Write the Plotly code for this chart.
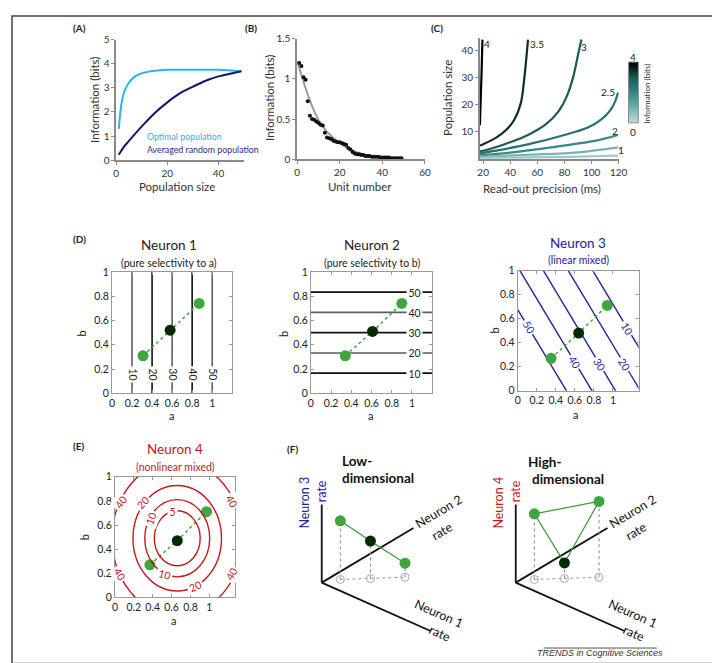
import numpy as np
import plotly.graph_objects as go
from plotly.colors import sample_colorscale

W, H = 720, 663
def px(x): return x / W
def py(y): return 1 - y / H

FONT = "Lato"

# ---------------- data ----------------
# (A) information vs population size
a_pop_opt = [1, 2, 3, 4, 5, 7, 9, 12, 15, 20, 30, 40, 49]
a_info_opt = [1.3, 2.3, 2.8, 3.05, 3.22, 3.45, 3.57, 3.66, 3.71, 3.75, 3.76, 3.75, 3.69]
a_pop_rand = [1, 3, 5, 10, 15, 20, 25, 30, 35, 40, 45, 49]
a_info_rand = [0.22, 0.55, 0.8, 1.4, 1.95, 2.4, 2.78, 3.05, 3.3, 3.48, 3.6, 3.69]

# (B) information per unit
b_units = list(range(1, 50))
b_info = [1.2, 1.16, 1.02, 0.99, 0.72, 0.54, 0.5, 0.49, 0.47, 0.45, 0.43, 0.42, 0.33, 0.27,
          0.26, 0.25, 0.23, 0.22, 0.21, 0.21, 0.2, 0.19, 0.18, 0.14, 0.12, 0.09, 0.07, 0.06,
          0.06, 0.05, 0.05, 0.04, 0.04, 0.04, 0.03, 0.03, 0.03, 0.03, 0.02, 0.02, 0.02, 0.02,
          0.02, 0.01, 0.01, 0.01, 0.01, 0.01, 0.01]
b_fit_x = [0, 2, 4, 6, 8, 10, 12, 14, 16, 18, 20, 22, 25, 28, 31, 35, 40, 45, 49]
b_fit_y = [1.22, 1.05, 0.88, 0.73, 0.6, 0.49, 0.41, 0.34, 0.29, 0.24, 0.2, 0.165, 0.12,
           0.085, 0.06, 0.04, 0.025, 0.015, 0.01]

# (C) iso-information contours: read-out precision (ms) vs population size
c_levels = [4, 3.5, 3, 2.5, 2, 1, 0.5]
c_x_40 = [17.6, 18.2, 18.8, 19.2, 19.5]
c_y_40 = [12.5, 22, 31, 38.5, 44]
c_x_35 = [17.5, 20, 29.6, 36.9, 43, 47.8, 50.2, 51.9, 53.1]
c_y_35 = [5.0, 5.5, 7.9, 10.7, 14.5, 20.6, 29, 37.4, 44]
c_x_30 = [17.5, 24.9, 39.4, 53.8, 65.9, 75.6, 81.6, 86.4, 90.1, 92.5]
c_y_30 = [2.8, 3.7, 6.1, 9.1, 12.7, 17.6, 23, 30.2, 38.6, 44]
c_x_25 = [17.5, 29.6, 53.8, 78, 97.3, 107, 114.2, 117.8, 119.5]
c_y_25 = [2.1, 3.1, 5.5, 8.6, 11.6, 14.5, 18.2, 21.8, 24.5]
c_x_20 = [17.5, 41.7, 78, 102.1, 119.5]
c_y_20 = [1.4, 2.5, 4.9, 6.7, 8.9]
c_x_10 = [17.5, 53.8, 90.1, 119.5]
c_y_10 = [0.85, 1.6, 2.5, 4.3]
c_x_05 = [17.5, 70, 119.5]
c_y_05 = [0.5, 0.7, 1.3]
c_labels = ["4", "3.5", "3", "2.5", "2", "1"]
c_colorbar_vals = [0, 0.5, 1, 1.5, 2, 2.5, 3, 3.5, 4]

# (D) tuning of neurons 1-3
d_tick_vals = [0, 0.2, 0.4, 0.6, 0.8, 1]
d1_levels = [10, 20, 30, 40, 50]
d1_a = [0.2, 0.4, 0.6, 0.8, 1.0]
d2_levels = [10, 20, 30, 40, 50]
d2_b = [0.167, 0.333, 0.5, 0.667, 0.833]
d3_levels = [10, 20, 30, 40, 50]
d3_intercept = [2.04, 1.70, 1.356, 1.03, 0.676]
d3_slope = -1.32
d3_label_a = [1.15, 1.12, 0.86, 0.6, 0.11]
d1_pts_a = [0.31, 0.58, 0.87]; d1_pts_b = [0.31, 0.52, 0.74]
d2_pts_a = [0.34, 0.61, 0.90]; d2_pts_b = [0.31, 0.51, 0.74]
d3_pts_a = [0.35, 0.64, 0.94]; d3_pts_b = [0.27, 0.48, 0.71]

# (E) neuron 4 nonlinear mixed
e_levels = [5, 10, 20, 40]
e_center = [0.66, 0.49]
e_semi_a = [0.243, 0.344, 0.469, 0.69]
e_semi_b = [0.228, 0.32, 0.437, 0.64]
e_pts_a = [0.37, 0.66, 0.97]; e_pts_b = [0.27, 0.47, 0.71]

# (F) population responses (rates, fraction of axis length)
f_n1 = [0.07, 0.22, 0.39]
f_n2 = [0.12, 0.27, 0.445]
f_n3 = [0.75, 0.48, 0.18]
f_n4 = [0.84, 0.20, 0.97]

# ---------------- styles ----------------
GREEN = "#3ea63e"
DARK = "#052b05"
BLUE = "#22229e"
RED = "#c41a1a"
AXC = "#8a8a8a"
c_scale = [[0, "#c4dedd"], [0.45, "#3a928f"], [0.75, "#1c5b58"], [1, "#000000"]]
TICKFS = 10
TITLEFS = 11.5

fig = go.Figure()
layout = dict(width=W, height=H, margin=dict(l=0, r=0, t=0, b=0, pad=0),
              paper_bgcolor="white", plot_bgcolor="rgba(0,0,0,0)", showlegend=False,
              font=dict(family=FONT, size=10, color="#222"))
ann = []
shapes = []

def ax_names(n):
    return ("x" if n == 1 else f"x{n}"), ("y" if n == 1 else f"y{n}")

def add_axes(n, x0, x1, ytop, ybot, xr, yr, xt=None, yt=None, box=False, hidden=False,
             xtt=None, ytt=None, fs=TICKFS):
    xn, yn = ax_names(n)
    base = dict(showgrid=False, zeroline=False, fixedrange=True)
    if hidden:
        xa = dict(base, visible=False)
        ya = dict(base, visible=False)
    elif box:
        common = dict(base, showline=True, linecolor="#9a9a9a", linewidth=1, mirror="ticks",
                      ticks="inside", ticklen=3, tickcolor="#9a9a9a",
                      tickfont=dict(size=fs, color="#222"))
        xa = dict(common); ya = dict(common)
    else:
        common = dict(base, showline=True, linecolor=AXC, linewidth=1.5, ticks="outside",
                      ticklen=3, tickcolor=AXC, tickfont=dict(size=fs, color="#333"))
        xa = dict(common); ya = dict(common)
    xa.update(domain=[px(x0), px(x1)], range=xr, anchor=yn)
    ya.update(domain=[py(ybot), py(ytop)], range=yr, anchor=xn)
    if xt is not None:
        xa.update(tickvals=xt)
        if xtt is not None: xa.update(ticktext=xtt)
    if yt is not None:
        ya.update(tickvals=yt)
        if ytt is not None: ya.update(ticktext=ytt)
    key = "" if n == 1 else str(n)
    layout["xaxis" + key] = xa
    layout["yaxis" + key] = ya
    return xn, yn

def txt(x, y, s, size=10, color="#222", angle=0, bold=False, xanchor="center",
        yanchor="middle", family=FONT, align="center"):
    if bold:
        s = "<b>" + s + "</b>"
    ann.append(dict(x=px(x), y=py(y), xref="paper", yref="paper", text=s, showarrow=False,
                    font=dict(size=size, color=color, family=family), textangle=angle,
                    xanchor=xanchor, yanchor=yanchor, align=align))

def dtxt(xr, yr, x, y, s, size=10.5, color="#222", angle=0):
    ann.append(dict(x=x, y=y, xref=xr, yref=yr, text=s, showarrow=False,
                    font=dict(size=size, color=color, family=FONT), textangle=angle,
                    bgcolor="white", borderpad=1.5, xanchor="center", yanchor="middle"))

# ---- (A)
xA, yA = add_axes(1, 107, 237, 25.3, 148, [0, 50], [0, 5], xt=[0, 20, 40], yt=[0, 1, 2, 3, 4, 5])
fig.add_trace(go.Scatter(x=a_pop_opt, y=a_info_opt, mode="lines", line=dict(color="#2cb4e6", width=2, shape="spline"), xaxis=xA, yaxis=yA))
fig.add_trace(go.Scatter(x=a_pop_rand, y=a_info_rand, mode="lines", line=dict(color="#15156e", width=2, shape="spline"), xaxis=xA, yaxis=yA))
txt(70, 13, "(A)", 10, bold=True)
txt(85, 87, "Information (bits)", TITLEFS, "#333", angle=-90)
txt(169, 175, "Population size", TITLEFS, "#333")
txt(136, 124, "Optimal population", 8.8, "#2fb0e0", xanchor="left")
txt(136, 137, "Averaged random population", 8.8, "#2a2a8c", xanchor="left")

# ---- (B)
xB, yB = add_axes(2, 291, 421, 24.3, 147, [0, 60], [0, 1.5], xt=[0, 20, 40, 60], yt=[0, 0.5, 1, 1.5])
fig.add_trace(go.Scatter(x=b_fit_x, y=b_fit_y, mode="lines", line=dict(color="#9a9a9a", width=2, shape="spline"), xaxis=xB, yaxis=yB))
fig.add_trace(go.Scatter(x=b_units, y=b_info, mode="markers", marker=dict(color="#111", size=4), xaxis=xB, yaxis=yB))
txt(244, 13, "(B)", 10, bold=True)
txt(263, 85, "Information (bits)", TITLEFS, "#333", angle=-90)
txt(355, 175, "Unit number", TITLEFS, "#333")

# ---- (C)
xC, yC = add_axes(3, 476.7, 618, 23.7, 147, [17.5, 120], [0, 44.5], xt=[20, 40, 60, 80, 100, 120], yt=[10, 20, 30, 40])
c_xs = [c_x_40, c_x_35, c_x_30, c_x_25, c_x_20, c_x_10, c_x_05]
c_ys = [c_y_40, c_y_35, c_y_30, c_y_25, c_y_20, c_y_10, c_y_05]
c_cols = sample_colorscale(c_scale, [v / 4 for v in c_levels])
for cx, cy, col in zip(c_xs, c_ys, c_cols):
    fig.add_trace(go.Scatter(x=cx, y=cy, mode="lines", line=dict(color=col, width=2.2, shape="spline"), xaxis=xC, yaxis=yC))
c_label_px = [(484, 30), (535, 30), (583, 33), (607, 79), (614, 118), (620, 138)]
for (lx, ly), s in zip(c_label_px, c_labels):
    txt(lx, ly, s, 10, "#222")
txt(433, 13, "(C)", 10, bold=True)
txt(444, 85, "Population size", TITLEFS, "#333", angle=-90)
txt(540, 177, "Read-out precision (ms)", TITLEFS, "#333")
# colorbar
xCB, yCB = add_axes(4, 628, 638, 48, 110, [-0.5, 0.5], [0, 4], hidden=True)
fig.add_trace(go.Heatmap(z=[[v] for v in c_colorbar_vals], x=[0], y=c_colorbar_vals, colorscale=c_scale,
                         zmin=0, zmax=4, showscale=False, zsmooth="best", xaxis=xCB, yaxis=yCB))
shapes.append(dict(type="rect", xref="paper", yref="paper", x0=px(628), x1=px(638), y0=py(110), y1=py(48),
                   line=dict(color="#888", width=1)))
txt(632.5, 43, "4", 10)
txt(633, 119, "0", 10)
txt(647, 80, "Information (bits)", 8, "#333", angle=-90)

# ---- (D)
def d_panel(n, x0, x1, ytop, ybot, xmax):
    return add_axes(n, x0, x1, ytop, ybot, [0, xmax], [0, 1], xt=d_tick_vals, yt=d_tick_vals,
                    xtt=["0", "0.2", "0.4", "0.6", "0.8", "1"], ytt=["0", "0.2", "0.4", "0.6", "0.8", "1"],
                    box=True, fs=10.5)

def add_points(xa, ya, pa, pb):
    fig.add_trace(go.Scatter(x=pa, y=pb, mode="lines", line=dict(color=GREEN, width=1.5, dash="dot"), xaxis=xa, yaxis=ya))
    fig.add_trace(go.Scatter(x=pa, y=pb, mode="markers",
                             marker=dict(size=11, color=[GREEN, DARK, GREEN], line=dict(width=0)), xaxis=xa, yaxis=ya))

x5, y5 = d_panel(5, 102.7, 225, 262, 386, 1.2)
d1_cols = ["#5e5e5e", "#111", "#5e5e5e", "#111", "#5e5e5e"]
for a, lev, col in zip(d1_a, d1_levels, d1_cols):
    fig.add_trace(go.Scatter(x=[a, a], y=[0, 1], mode="lines", line=dict(color=col, width=1.6), xaxis=x5, yaxis=y5))
    dtxt(x5, y5, a, 0.16, str(lev), angle=90)
add_points(x5, y5, d1_pts_a, d1_pts_b)
txt(70, 228, "(D)", 10, bold=True)
txt(161, 235, "Neuron 1", 13.5)
txt(161, 253, "(pure selectivity to a)", 10.5)
txt(72, 325, "b", 11, angle=-90)
txt(163, 409, "a", 11)

x6, y6 = d_panel(6, 305, 428.3, 262, 386, 1.2)
d2_cols = ["#111", "#5e5e5e", "#111", "#5e5e5e", "#111"]
for b, lev, col in zip(d2_b, d2_levels, d2_cols):
    fig.add_trace(go.Scatter(x=[0, 1.2], y=[b, b], mode="lines", line=dict(color=col, width=1.6), xaxis=x6, yaxis=y6))
    dtxt(x6, y6, 1.025, b, str(lev))
add_points(x6, y6, d2_pts_a, d2_pts_b)
txt(367, 235, "Neuron 2", 13.5)
txt(367, 253, "(pure selectivity to b)", 10.5)
txt(277, 325, "b", 11, angle=-90)
txt(366, 409, "a", 11)

x7, y7 = d_panel(7, 515.3, 638.3, 260.7, 383.3, 1.27)
for c0, lev, la in zip(d3_intercept, d3_levels, d3_label_a):
    fig.add_trace(go.Scatter(x=[0, 1.3], y=[c0, c0 + d3_slope * 1.3], mode="lines",
                             line=dict(color=BLUE, width=1.4), xaxis=x7, yaxis=y7))
    dtxt(x7, y7, la, c0 + d3_slope * la, str(lev), color=BLUE, angle=59)
add_points(x7, y7, d3_pts_a, d3_pts_b)
txt(577, 233, "Neuron 3", 13.5, BLUE)
txt(577, 250, "(linear mixed)", 10.5, BLUE)
txt(492, 322, "b", 11, angle=-90)
txt(574, 407, "a", 11)

# ---- (E)
x8, y8 = d_panel(8, 105.7, 228.3, 471, 594, 1.277)
for sa, sb in zip(e_semi_a, e_semi_b):
    shapes.append(dict(type="circle", xref=x8, yref=y8, x0=e_center[0] - sa, x1=e_center[0] + sa,
                       y0=e_center[1] - sb, y1=e_center[1] + sb, line=dict(color=RED, width=1.4), layer="above"))
add_points(x8, y8, e_pts_a, e_pts_b)
e_lab = [(0.615, 0.71, "5", 0), (0.38, 0.656, "10", -70), (0.53, 0.19, "10", 15), (0.295, 0.79, "20", -45),
         (0.85, 0.087, "20", -25), (0.06, 0.79, "40", -55), (1.23, 0.80, "40", 60),
         (0.045, 0.195, "40", 60), (1.24, 0.195, "40", -60)]
for ea, eb, s, ang in e_lab:
    dtxt(x8, y8, ea, eb, s, color=RED, angle=ang)
txt(69, 440, "(E)", 10, bold=True)
txt(167, 443, "Neuron 4", 13.5, RED)
txt(167, 461, "(nonlinear mixed)", 10.5, RED)
txt(75, 533, "b", 11, angle=-90)
txt(165, 618, "a", 11)

# ---- (F)
f_v1 = np.array([110.7, -49.3]); f_v2 = np.array([93.3, 55.7]); f_v3 = np.array([0.0, 79.7])

def f_panel(n, x0, x1, ox, rz, zname, zcol, title1, title2, tx1, tx2):
    xa, ya = add_axes(n, x0, x1, 440, 650, [x0 - ox, x1 - ox], [579 - 650, 579 - 440], hidden=True)
    for v in (f_v1, f_v2, f_v3):
        fig.add_trace(go.Scatter(x=[0, v[0]], y=[0, v[1]], mode="lines", line=dict(color="#111", width=1.8), xaxis=xa, yaxis=ya))
    g = [r1 * f_v1 + r2 * f_v2 for r1, r2 in zip(f_n1, f_n2)]
    p = [gi + r3 * f_v3 for gi, r3 in zip(g, rz)]
    gx = [q[0] for q in g]; gy = [q[1] for q in g]
    pxs = [q[0] for q in p]; pys = [q[1] for q in p]
    fig.add_trace(go.Scatter(x=gx, y=gy, mode="lines", line=dict(color="#999", width=1, dash="dot"), xaxis=xa, yaxis=ya))
    for i in range(3):
        fig.add_trace(go.Scatter(x=[gx[i], pxs[i]], y=[gy[i], pys[i]], mode="lines",
                                 line=dict(color="#888", width=1, dash="dot"), xaxis=xa, yaxis=ya))
    fig.add_trace(go.Scatter(x=gx, y=gy, mode="markers", marker=dict(symbol="circle-open", size=8, color="#aaa", line=dict(width=1)), xaxis=xa, yaxis=ya))
    if n == 10:
        lx = pxs + [pxs[0]]; ly = pys + [pys[0]]
    else:
        lx = pxs; ly = pys
    fig.add_trace(go.Scatter(x=lx, y=ly, mode="lines", line=dict(color="#3a9a3a", width=1.2), xaxis=xa, yaxis=ya))
    fig.add_trace(go.Scatter(x=pxs, y=pys, mode="markers", marker=dict(size=11, color=[GREEN, DARK, GREEN]), xaxis=xa, yaxis=ya))
    txt(tx1[0], tx1[1], title1, 13.5, "#111", bold=True)
    txt(tx2[0], tx2[1], title2, 13.5, "#111", bold=True)
    txt(ox - 17.7, 497, zname, 12.5, zcol, angle=-90)
    txt(ox, 486, "rate", 12.5, zcol, angle=-90)
    txt(ox + 119, 506.7, "Neuron 2", 12.5, "#111", angle=-31)
    txt(ox + 122, 526.7, "rate", 12.5, "#111", angle=-31)
    txt(ox + 119, 610.5, "Neuron 1", 12.5, "#111", angle=24)
    txt(ox + 120.5, 630.5, "rate", 12.5, "#111", angle=24)

f_panel(9, 280, 470, 316, f_n3, "Neuron 3", BLUE, "Low-", "dimensional", (352, 455), (373, 472))
f_panel(10, 480, 700, 513.3, f_n4, "Neuron 4", RED, "High-", "dimensional", (543, 456), (566, 473))
txt(286, 443, "(F)", 10, bold=True)

# footer
shapes.append(dict(type="line", xref="paper", yref="paper", x0=px(541.7), x1=px(656.7), y0=py(645.7), y1=py(645.7),
                   line=dict(color="#555", width=1)))
txt(599, 651, "<i>TRENDS in Cognitive Sciences</i>", 9, "#333", family="Liberation Sans")

# outer border
shapes.append(dict(type="rect", xref="paper", yref="paper", x0=px(1), x1=px(719), y0=py(661.5), y1=py(1),
                   line=dict(color="#444", width=1.5)))

layout["annotations"] = ann
layout["shapes"] = shapes
fig.update_layout(**layout)
fig.write_html("out.html")
